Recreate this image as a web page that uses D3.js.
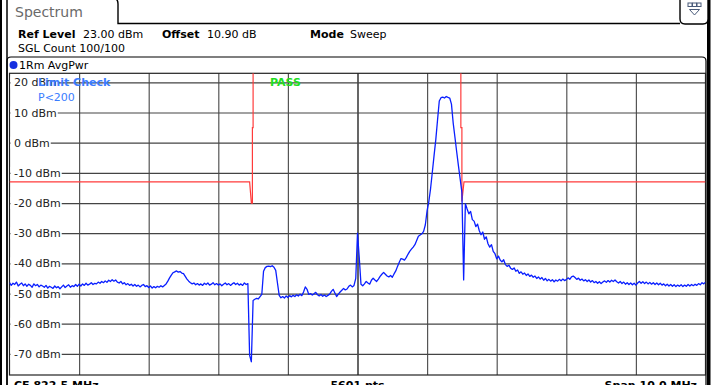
<!DOCTYPE html>
<html>
<head>
<meta charset="utf-8">
<script src="https://cdn.jsdelivr.net/npm/d3@7"></script>
<style>
  html, body { margin: 0; padding: 0; background: #fff; overflow: hidden; }
  svg { display: block; font-family: "DejaVu Sans", sans-serif; }
</style>
</head>
<body>
<div id="chart"></div>
<script>
// Spectrum analyzer screenshot, Limit check on an AvgPwr trace

const centerFreq = 822.5;   // MHz
const spanMHz = 10.0;
const refLevel = 23;        // dBm, top of the grid
const rangeDb = 100;
const sweepStep = 0.025;    // MHz between trace samples

const yTicks = [20, 10, 0, -10, -20, -30, -40, -50, -60, -70];
const xTicks = [818.5, 819.5, 820.5, 821.5, 822.5, 823.5, 824.5, 825.5, 826.5];

// limit line (freq MHz, level dBm)
const limitFreq = [817.5, 820.95, 820.975, 820.99, 820.99, 821.0, 821.0, 823.985, 823.985, 824.0, 824.0, 824.03, 827.5];
const limitDbm  = [-13,   -13,    -20,     -20,    5,      5,     40,    40,      5,       5,     -19.5, -13,    -13];

// trace level, one value every 0.025 MHz from 817.5 MHz
const traceDbm = [
  -46.4, -47.3, -46.6, -47.0, -46.2, -47.5, -46.9, -46.5, -47.4, -46.8,
  -47.6, -46.9, -47.3, -47.9, -46.8, -47.4, -47.0, -47.8, -47.2, -47.5,
  -47.9, -47.3, -48.2, -47.6, -47.9, -48.3, -47.5, -48.1, -47.7, -48.4,
  -47.8, -47.2, -48.0, -47.5, -47.1, -47.9, -47.4, -47.7, -47.0, -47.6,
  -46.9, -47.5, -46.8, -47.3, -46.6, -47.2, -46.9, -46.4, -47.0, -46.6,
  -46.8, -46.2, -46.6, -46.0, -46.4, -45.8, -46.3, -45.6, -46.0, -45.4,
  -45.9, -45.5, -46.2, -46.5, -46.0, -46.8, -46.4, -47.1, -46.7, -47.3,
  -46.9, -47.5, -47.0, -47.6, -47.2, -47.8, -47.3, -47.0, -47.7, -47.4,
  -48.0, -47.5, -48.2, -47.7, -48.1, -47.6, -47.9, -47.4, -47.8, -47.3,
  -46.8, -45.9, -44.8, -43.9, -43.1, -42.8, -42.5, -42.9, -42.7, -43.2,
  -43.4, -44.3, -45.2, -45.9, -46.4, -46.8, -46.5, -47.1, -46.7, -47.2,
  -46.8, -47.3, -46.6, -47.0, -46.5, -47.2, -46.9, -46.4, -47.1, -46.7,
  -47.2, -46.8, -47.4, -46.9, -46.5, -47.1, -46.7, -47.3, -46.8, -46.4,
  -47.0, -46.6, -47.2, -46.8, -47.3, -46.5, -47.0, -46.7, -70.5, -72.6,
  -52.3, -51.9, -51.6, -51.8, -51.0, -50.3, -42.6, -41.4, -41.0, -40.9,
  -41.1, -40.8, -41.3, -42.3, -46.5, -50.6, -51.4, -51.0, -51.5, -50.8,
  -51.3, -50.7, -51.1, -50.6, -51.0, -50.4, -50.8, -50.2, -50.7, -49.5,
  -47.8, -48.6, -50.3, -50.0, -50.5, -50.1, -49.6, -50.4, -50.8, -50.3,
  -50.9, -50.5, -51.0, -50.6, -50.2, -49.3, -48.6, -49.8, -51.0, -50.2,
  -49.5, -48.9, -48.3, -48.8, -48.5, -47.6, -47.2, -47.8, -47.3, -45.0,
  -30.0, -38.0, -46.9, -47.4, -46.8, -46.0, -46.5, -46.9, -45.6, -44.9,
  -45.5, -46.0, -45.2, -44.3, -43.6, -43.0, -43.6, -44.2, -44.5, -44.0,
  -44.6, -43.5, -42.5, -41.0, -39.6, -38.4, -38.6, -38.9, -38.1, -37.0,
  -36.0, -35.3, -34.6, -33.8, -32.4, -31.0, -30.6, -30.2, -29.4, -27.2,
  -22.5, -19.5, -15.2, -9.8, -4.3, 1.0, 7.5, 13.8, 14.9, 15.1,
  14.8, 15.3, 15.0, 14.8, 12.8, 6.5, 1.8, -3.0, -7.6, -12.0,
  -16.5, -45.5, -20.2, -22.0, -23.6, -22.8, -25.5, -26.0, -27.8, -27.0,
  -29.2, -30.5, -29.6, -32.0, -31.2, -33.5, -34.6, -33.8, -36.0, -36.8,
  -38.5, -37.6, -38.9, -39.5, -38.8, -40.4, -41.0, -40.6, -41.6, -42.0,
  -41.5, -42.6, -42.2, -43.3, -42.8, -43.6, -43.2, -44.0, -43.5, -44.3,
  -43.9, -44.6, -44.2, -45.0, -44.5, -45.2, -44.7, -45.6, -45.0, -45.8,
  -45.3, -45.9, -45.4, -46.1, -45.5, -45.9, -45.3, -45.8, -45.2, -45.7,
  -45.4, -44.8, -45.3, -44.5, -44.2, -44.7, -45.3, -44.9, -45.6, -45.2,
  -45.8, -45.4, -46.0, -45.5, -46.2, -45.7, -46.4, -46.0, -46.6, -46.1,
  -46.7, -46.2, -45.8, -46.3, -45.7, -46.2, -45.6, -46.0, -45.5, -46.1,
  -46.5, -46.0, -46.7, -46.2, -46.9, -46.4, -47.0, -46.5, -47.1, -46.6,
  -47.2, -46.5, -46.0, -46.6, -46.1, -46.7, -46.2, -46.8, -46.3, -46.9,
  -46.4, -47.0, -46.5, -47.1, -46.6, -47.2, -46.8, -47.4, -46.9, -47.5,
  -47.0, -47.6, -47.1, -47.7, -47.2, -47.6, -47.1, -47.7, -47.2, -47.6,
  -47.0, -47.5, -47.0, -47.4, -46.9, -47.3, -46.7, -47.1, -46.4, -46.8,
  -46.2
];

const width = 715, height = 385;
const plot = { left: 9.5, right: 705.5, top: 73.3, bottom: 375 };

const svg = d3.select('#chart').append('svg')
  .attr('width', width)
  .attr('height', height);

const x = d3.scaleLinear()
  .domain([centerFreq - spanMHz / 2, centerFreq + spanMHz / 2])
  .range([plot.left, plot.right]);
const y = d3.scaleLinear()
  .domain([refLevel - rangeDb, refLevel])
  .range([plot.bottom, plot.top]);

// --- window chrome ---
svg.append('line').attr('x1', 1).attr('x2', 1).attr('y1', 0).attr('y2', height)
  .attr('stroke', '#000').attr('stroke-width', 2);
svg.append('line').attr('x1', 7).attr('x2', 7).attr('y1', 0).attr('y2', height)
  .attr('stroke', '#000').attr('stroke-width', 1.5);
svg.append('rect').attr('x', 707).attr('y', 0).attr('width', 3.5).attr('height', height)
  .attr('fill', '#000');

// tab
svg.append('path')
  .attr('d', 'M7,-2 L113,-2 Q118,-2 118,4 L118,23.5 L680,23.5')
  .attr('fill', 'none').attr('stroke', '#000').attr('stroke-width', 1.4);
svg.append('text').attr('x', 15).attr('y', 17)
  .attr('font-size', '14px').attr('fill', '#6a6a6a').text('Spectrum');

// small menu button top right
svg.append('path')
  .attr('d', 'M680,-2 L680,19 Q680,24 685,24 L703,24 Q708,24 708,19 L708,-2')
  .attr('fill', '#fff').attr('stroke', '#000').attr('stroke-width', 1.4);
[688, 692.5, 697].forEach(px => {
  svg.append('rect').attr('x', px).attr('y', 3).attr('width', 4).attr('height', 3.5)
    .attr('fill', '#fff').attr('stroke', '#4a5b7a').attr('stroke-width', 1);
});
svg.append('path').attr('d', 'M689.5,9.5 L699.5,9.5 L694.5,15 Z')
  .attr('fill', 'none').attr('stroke', '#4a5b7a').attr('stroke-width', 1);

// header parameters
[['Ref Level', 18, true], ['23.00 dBm', 83, false], ['Offset', 162, true], ['10.90 dB', 207, false],
 ['Mode', 310, true], ['Sweep', 350, false]].forEach(([t, px, b]) => {
  svg.append('text').attr('x', px).attr('y', 38).attr('font-size', '11px')
    .attr('font-weight', b ? 'bold' : 'normal').attr('fill', '#000').text(t);
});
svg.append('text').attr('x', 18).attr('y', 52).attr('font-size', '11px').text('SGL Count 100/100');

// trace panel
svg.append('path')
  .attr('d', `M7,${height + 2} L7,61 Q7,57 11,57 L702,57 Q706,57 706,61 L706,${height + 2}`)
  .attr('fill', 'none').attr('stroke', '#000').attr('stroke-width', 1.2);
svg.append('circle').attr('cx', 13.5).attr('cy', 65).attr('r', 4).attr('fill', '#1530e0');
svg.append('text').attr('x', 19).attr('y', 69).attr('font-size', '11px').text('1Rm AvgPwr');

// --- grid ---
const g = svg.append('g');
g.append('g')
  .attr('transform', `translate(0,${plot.bottom})`)
  .call(d3.axisBottom(x).tickValues(xTicks).tickSize(-(plot.bottom - plot.top)).tickFormat(''))
  .call(s => s.select('.domain').remove())
  .selectAll('line')
  .attr('stroke', (d) => d === centerFreq ? '#000' : '#555')
  .attr('stroke-width', 1.2);

g.append('g')
  .attr('transform', `translate(${plot.left},0)`)
  .call(d3.axisLeft(y).tickValues(yTicks).tickSize(-(plot.right - plot.left)).tickFormat(''))
  .call(s => s.select('.domain').remove())
  .selectAll('line')
  .attr('stroke', '#444')
  .attr('stroke-width', 1.2);

// frame of the diagram
svg.append('rect')
  .attr('x', plot.left).attr('y', plot.top)
  .attr('width', plot.right - plot.left).attr('height', plot.bottom - plot.top)
  .attr('fill', 'none').attr('stroke', '#222').attr('stroke-width', 1.2);

// level labels sit on the grid lines with a white background
const lab = svg.append('g');
yTicks.forEach(v => {
  const t = lab.append('text')
    .attr('x', 14).attr('y', y(v) + 4)
    .attr('font-size', '11px').attr('fill', '#222')
    .text(`${v} dBm`);
  const w = t.node().getComputedTextLength();
  lab.insert('rect', 'text')
    .attr('x', plot.left + 1).attr('y', y(v) - 6)
    .attr('width', 14 + w - plot.left).attr('height', 12)
    .attr('fill', '#fff');
});

// --- data ---
svg.append('clipPath').attr('id', 'clip')
  .append('rect').attr('x', plot.left).attr('y', plot.top)
  .attr('width', plot.right - plot.left).attr('height', plot.bottom - plot.top);

const limitLine = d3.line().x(d => x(d[0])).y(d => y(d[1]));
svg.append('path')
  .datum(limitFreq.map((f, i) => [f, limitDbm[i]]))
  .attr('clip-path', 'url(#clip)')
  .attr('d', limitLine)
  .attr('fill', 'none').attr('stroke', '#ff3b3b').attr('stroke-width', 1.2);

const traceLine = d3.line()
  .x((d, i) => x(x.domain()[0] + i * sweepStep))
  .y(d => y(d));
svg.append('path')
  .datum(traceDbm)
  .attr('clip-path', 'url(#clip)')
  .attr('d', traceLine)
  .attr('fill', 'none').attr('stroke', '#0a1fff').attr('stroke-width', 1.3)
  .attr('stroke-linejoin', 'round');

// limit check annotation
svg.append('text').attr('x', 38).attr('y', 86).attr('font-size', '11px')
  .attr('font-weight', 'bold').attr('fill', '#3a7cff').text('Limit Check');
svg.append('text').attr('x', 38).attr('y', 101).attr('font-size', '11px')
  .attr('fill', '#3a7cff').text('P<200');
svg.append('text').attr('x', 270).attr('y', 86).attr('font-size', '11px')
  .attr('font-weight', 'bold').attr('fill', '#22dd22').text('PASS');

// footer
svg.append('text').attr('x', 14).attr('y', 389).attr('font-size', '11px')
  .attr('font-weight', 'bold').text('CF 822.5 MHz');
svg.append('text').attr('x', x(centerFreq)).attr('y', 389).attr('font-size', '11px')
  .attr('font-weight', 'bold').attr('text-anchor', 'middle').text('5601 pts');
svg.append('text').attr('x', 697).attr('y', 389).attr('font-size', '11px')
  .attr('font-weight', 'bold').attr('text-anchor', 'end').text('Span 10.0 MHz');
</script>
</body>
</html>
